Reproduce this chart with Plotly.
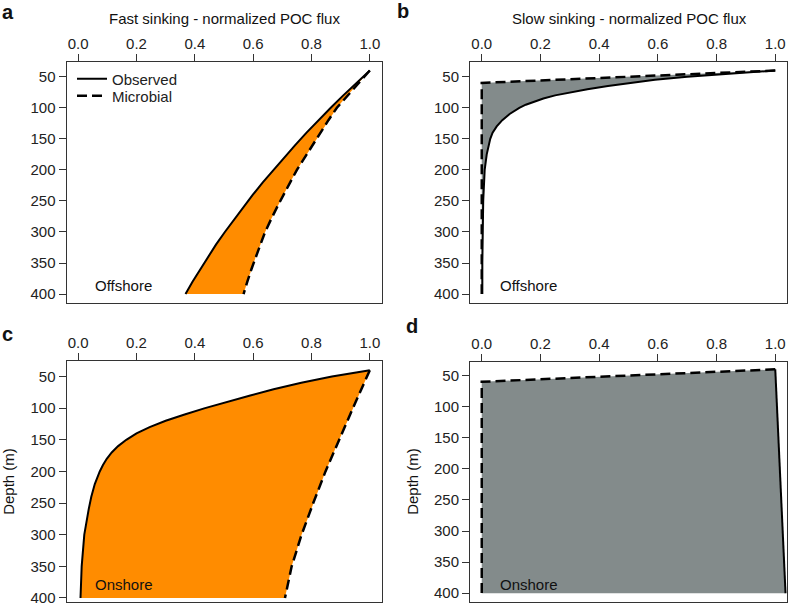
import plotly.graph_objects as go

# ---------------- data ----------------
# Panel a: fast sinking, offshore
a_depth = [40, 60, 80, 100, 120, 140, 160, 180, 200, 220, 240, 260, 280, 300, 320, 340, 360, 380, 400]
a_obs = [1.0, 0.954, 0.909, 0.866, 0.824, 0.783, 0.744, 0.706, 0.669, 0.633, 0.599, 0.566, 0.534, 0.503, 0.473, 0.445, 0.418, 0.392, 0.368]
a_mic = [1.0, 0.962, 0.924, 0.887, 0.858, 0.831, 0.804, 0.777, 0.750, 0.727, 0.704, 0.682, 0.661, 0.641, 0.625, 0.609, 0.594, 0.580, 0.567]

# Panel b: slow sinking, offshore
b_obs_depth = [40, 45, 50, 55, 60, 65, 70, 75, 80, 85, 90, 95, 100, 110, 120, 130, 140, 150, 175, 200, 250, 300, 350, 400]
b_obs = [1.0, 0.84, 0.70, 0.59, 0.505, 0.43, 0.36, 0.30, 0.25, 0.21, 0.178, 0.15, 0.128, 0.095, 0.07, 0.051, 0.037, 0.029, 0.017, 0.01, 0.005, 0.003, 0.002, 0.002]
b_mic_depth = [40, 60, 400]
b_mic = [1.0, 0.0, 0.0]

# Panel c: fast sinking, onshore
c_obs_depth = [40, 50, 60, 70, 80, 90, 100, 110, 120, 130, 140, 150, 160, 170, 180, 190, 200, 220, 240, 260, 280, 300, 350, 400]
c_obs = [1.0, 0.87, 0.765, 0.67, 0.59, 0.51, 0.435, 0.365, 0.30, 0.245, 0.20, 0.165, 0.137, 0.115, 0.098, 0.085, 0.074, 0.057, 0.045, 0.036, 0.028, 0.021, 0.012, 0.008]
c_mic_depth = [40, 60, 80, 100, 150, 200, 250, 300, 350, 400]
c_mic = [1.0, 0.98, 0.962, 0.942, 0.895, 0.848, 0.806, 0.766, 0.732, 0.709]

# Panel d: slow sinking, onshore
d_obs_depth = [40, 400]
d_obs = [1.0, 1.035]
d_mic_depth = [40, 60, 400]
d_mic = [1.0, 0.0, 0.0]

x_ticks = [0.0, 0.2, 0.4, 0.6, 0.8, 1.0]
y_ticks = [50, 100, 150, 200, 250, 300, 350, 400]

ORANGE = "#FF8C00"
GRAY = "#838B8B"
AX = "#333333"
FONT = "Liberation Sans, Arial, Helvetica, sans-serif"

W, H = 788, 611


def px(x):
    return x / W


def py(y):
    return 1 - y / H


fig = go.Figure()

panels = [
    ("x", "y", a_depth, a_obs, a_depth, a_mic, ORANGE),
    ("x2", "y2", b_obs_depth, b_obs, b_mic_depth, b_mic, GRAY),
    ("x3", "y3", c_obs_depth, c_obs, c_mic_depth, c_mic, ORANGE),
    ("x4", "y4", d_obs_depth, d_obs, d_mic_depth, d_mic, GRAY),
]

for i, (xa, ya, od, ov, md, mv, col) in enumerate(panels):
    fig.add_trace(go.Scatter(
        x=list(ov) + list(mv)[::-1], y=list(od) + list(md)[::-1],
        fill="toself", fillcolor=col, line=dict(width=0), mode="lines",
        hoverinfo="skip", showlegend=False, xaxis=xa, yaxis=ya))
    fig.add_trace(go.Scatter(
        x=mv, y=md, mode="lines", name="Microbial",
        line=dict(color="black", width=2.5, dash="10px,5px"),
        showlegend=(i == 0), legend="legend2", xaxis=xa, yaxis=ya))
    fig.add_trace(go.Scatter(
        x=ov, y=od, mode="lines", name="Observed",
        line=dict(color="black", width=2),
        showlegend=(i == 0), legend="legend", xaxis=xa, yaxis=ya))

xdom_l = [px(66.5), px(381.5)]
xdom_r = [px(470), px(787)]
ydom_top = [py(305), py(62)]
ydom_c = [py(606), py(363)]
ydom_d = [py(606), py(364)]

common_x = dict(range=[-0.04, 1.04], side="top", tickvals=x_ticks, tickformat=".1f",
                ticks="outside", ticklen=7, tickcolor=AX, tickwidth=1,
                showline=True, linecolor=AX, linewidth=1, mirror=True,
                showgrid=False, zeroline=False, ticklabelstandoff=-1,
                ticklabeloverflow="allow",
                tickfont=dict(size=15, color="#222222", family=FONT))
common_y = dict(tickvals=y_ticks, ticks="outside", ticklen=7, tickcolor=AX, tickwidth=1,
                showline=True, linecolor=AX, linewidth=1, mirror=True,
                showgrid=False, zeroline=False, ticklabelstandoff=0,
                ticklabeloverflow="allow",
                tickfont=dict(size=15, color="#222222", family=FONT))

leg_common = dict(xanchor="left", yanchor="top", bgcolor="rgba(0,0,0,0)",
                  font=dict(size=15, family=FONT, color="#222222"), itemwidth=30)

fig.update_layout(
    width=W, height=H,
    margin=dict(l=0, r=0, t=0, b=0),
    paper_bgcolor="white", plot_bgcolor="white",
    font=dict(family=FONT, size=15, color="#222222"),
    xaxis=dict(domain=xdom_l, anchor="y", **common_x),
    yaxis=dict(domain=ydom_top, anchor="x", range=[414.4, 25.6], **common_y),
    xaxis2=dict(domain=xdom_r, anchor="y2", **common_x),
    yaxis2=dict(domain=ydom_top, anchor="x2", range=[414.4, 25.6], **common_y),
    xaxis3=dict(domain=xdom_l, anchor="y3", **common_x),
    yaxis3=dict(domain=ydom_c, anchor="x3", range=[406.4, 24.9], **common_y),
    xaxis4=dict(domain=xdom_r, anchor="y4", **common_x),
    yaxis4=dict(domain=ydom_d, anchor="x4", range=[414.2, 27.6], **common_y),
    showlegend=True,
    legend=dict(x=px(72), y=py(63), **leg_common),
    legend2=dict(x=px(72), y=py(80), **leg_common),
)

ann = []


def txt(x, y, s, size=15, xanchor="center", bold=False, angle=0):
    ann.append(dict(x=px(x), y=py(y), xref="paper", yref="paper", text=("<b>%s</b>" % s) if bold else s,
                    showarrow=False, xanchor=xanchor, yanchor="middle", textangle=angle,
                    font=dict(size=size, family=FONT, color="#111111")))


txt(224, 19, "Fast sinking - normalized POC flux")
txt(629, 19, "Slow sinking - normalized POC flux")
txt(0, 12, "a", size=20, xanchor="left", bold=True)
txt(395, 11, "b", size=20, xanchor="left", bold=True)
txt(0, 336, "c", size=20, xanchor="left", bold=True)
txt(404, 328, "d", size=20, xanchor="left", bold=True)
txt(93, 287, "Offshore", xanchor="left")
txt(498, 287, "Offshore", xanchor="left")
txt(93, 588, "Onshore", xanchor="left")
txt(498, 588, "Onshore", xanchor="left")
txt(9, 485, "Depth (m)", angle=-90)
txt(413, 485, "Depth (m)", angle=-90)

fig.update_layout(annotations=ann)
fig.write_html(
    "out.html",
    config={"displayModeBar": False, "staticPlot": True},
    post_script="document.body.style.margin='0px';"
                "document.documentElement.style.overflow='hidden';"
                "document.body.style.overflow='hidden';",
)
